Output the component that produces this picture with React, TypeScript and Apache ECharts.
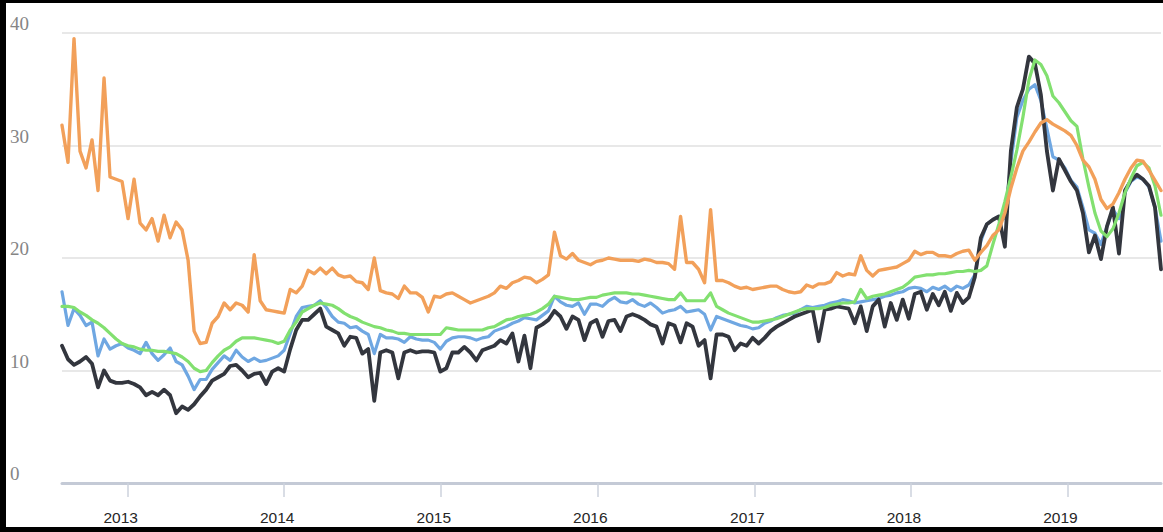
import React, { useEffect, useRef } from 'react';
import * as echarts from 'echarts';

// sampling schedule: one point every 14 days from 1 Aug 2012
const startYear = 2012;
const startMonth = 7;
const startDay = 1;
const stepDays = 14;

const yMin = 0;
const yMax = 40;
const yStep = 10;

const orange = [
  31.8, 28.5, 39.5, 29.5, 28.0, 30.5, 26.0, 36.0, 27.2, 27.0,
  26.8, 23.5, 27.0, 23.1, 22.5, 23.5, 21.5, 23.8, 21.8, 23.2,
  22.5, 19.8, 13.5, 12.4, 12.5, 14.2, 14.8, 16.0, 15.4, 16.0,
  15.8, 15.2, 20.3, 16.2, 15.4, 15.3, 15.2, 15.1, 17.2, 16.9,
  17.5, 18.9, 18.6, 19.1, 18.6, 19.1, 18.5, 18.3, 18.4, 17.9,
  17.8, 17.2, 20.0, 17.1, 16.9, 16.8, 16.4, 17.5, 16.9, 16.9,
  16.5, 15.2, 16.6, 16.5, 16.8, 16.9, 16.6, 16.3, 16.0, 16.2,
  16.4, 16.6, 16.9, 17.5, 17.3, 17.8, 18.0, 18.3, 18.2, 17.8,
  18.1, 18.5, 22.3, 20.2, 19.9, 20.4, 19.8, 19.6, 19.4, 19.7,
  19.8, 20.0, 19.9, 19.8, 19.8, 19.8, 19.7, 19.9, 19.8, 19.6,
  19.6, 19.5, 19.0, 23.7, 19.6, 19.6, 19.0, 17.8, 24.3, 18.0,
  18.0, 17.8, 17.5, 17.3, 17.4, 17.2, 17.3, 17.4, 17.5, 17.5,
  17.2, 17.0, 16.9, 17.0, 17.6, 17.4, 17.7, 17.7, 17.9, 18.7,
  18.4, 18.6, 18.5, 20.2, 18.9, 18.4, 18.9, 19.0, 19.1, 19.2,
  19.5, 19.8, 20.6, 20.3, 20.5, 20.5, 20.2, 20.2, 20.1, 20.4,
  20.6, 20.7, 19.8, 20.5, 21.1, 22.0, 22.5, 24.0, 26.2, 28.0,
  29.5, 30.3, 31.2, 32.0, 32.3, 31.9, 31.6, 31.3, 30.9, 30.0,
  28.7, 28.1, 27.0, 25.2, 24.4, 24.8, 25.8, 27.0, 28.0, 28.7,
  28.6, 27.8, 26.9, 26.0,
];

const blue = [
  17.0, 14.0, 15.5, 14.9, 14.0, 14.3, 11.3, 12.8, 11.9, 12.2,
  12.4, 12.0, 11.8, 11.5, 12.5, 11.5, 10.9, 11.4, 12.0, 10.8,
  10.5, 9.5, 8.3, 9.2, 9.2, 10.1, 10.7, 11.3, 10.9, 11.8,
  11.2, 10.8, 11.1, 10.8, 10.9, 11.1, 11.3, 11.8, 13.3, 14.8,
  15.6, 15.7, 15.8, 16.2, 15.6, 14.8, 14.3, 14.2, 13.8, 13.9,
  13.5, 13.2, 11.5, 13.2, 12.9, 12.9, 12.8, 12.5, 13.0, 12.8,
  12.7, 12.7, 12.5, 11.9, 12.6, 12.9, 13.0, 13.0, 12.9, 12.7,
  12.9, 13.0, 13.5, 13.7, 13.9, 14.2, 14.4, 14.7, 14.6, 14.5,
  14.9, 15.3, 16.6, 16.1, 15.8, 15.7, 16.0, 15.0, 15.9, 15.9,
  15.7, 16.2, 16.5, 16.1, 16.0, 16.3, 15.9, 15.7, 16.0, 15.6,
  15.1, 15.3, 15.4, 15.7, 15.2, 15.3, 15.4, 15.0, 13.6, 14.8,
  14.6, 14.4, 14.2, 14.0, 13.9, 13.7, 13.8, 14.2, 14.4, 14.7,
  14.9, 15.0, 15.1, 15.4, 15.7, 15.6, 15.7, 15.8, 16.0, 16.1,
  16.3, 16.2, 16.0, 16.1, 16.2, 16.3, 16.4, 16.6, 16.7, 16.9,
  17.0, 17.3, 17.4, 17.3, 17.0, 17.4, 17.2, 17.5, 17.1, 17.5,
  17.3, 17.6, 18.5, 21.5, 23.0, 23.4, 23.7, 23.5, 28.5, 32.5,
  34.0, 35.0, 35.4, 34.0, 31.5, 29.0, 28.7, 28.0, 26.9, 26.3,
  24.5, 22.5, 22.2, 21.2, 22.8, 24.3, 23.5, 25.8, 26.8, 27.2,
  27.0, 26.3, 24.5, 21.5,
];

const green = [
  15.7, 15.7, 15.6, 15.2, 14.9, 14.5, 14.2, 13.8, 13.3, 12.8,
  12.4, 12.2, 12.1, 11.9, 11.8, 11.8, 11.7, 11.7, 11.6, 11.5,
  11.2, 10.8, 10.2, 9.9, 10.0, 10.7, 11.3, 11.8, 12.1, 12.6,
  12.9, 12.9, 12.9, 12.8, 12.7, 12.6, 12.4, 12.6, 13.6, 14.3,
  15.2, 15.5, 15.8, 16.0, 15.9, 15.8, 15.5, 15.1, 14.8, 14.6,
  14.3, 14.1, 13.9, 13.8, 13.6, 13.5, 13.3, 13.3, 13.2, 13.2,
  13.2, 13.2, 13.2, 13.2, 13.8, 13.7, 13.6, 13.6, 13.6, 13.6,
  13.6, 13.8, 13.9, 14.2, 14.5, 14.6, 14.8, 14.9, 15.0, 15.2,
  15.5, 15.9, 16.6, 16.5, 16.4, 16.3, 16.3, 16.4, 16.5, 16.5,
  16.7, 16.8, 16.9, 16.9, 16.9, 16.8, 16.8, 16.7, 16.6, 16.5,
  16.4, 16.3, 16.3, 16.9, 16.2, 16.2, 16.2, 16.2, 16.9, 15.7,
  15.4, 15.1, 14.9, 14.7, 14.5, 14.3, 14.3, 14.4, 14.5, 14.6,
  14.8, 15.0, 15.2, 15.4, 15.5, 15.5, 15.5, 15.6, 15.8, 15.9,
  16.0, 16.0, 16.1, 17.2, 16.4, 16.6, 16.7, 16.8, 17.0, 17.2,
  17.4, 17.8, 18.3, 18.4, 18.5, 18.5, 18.6, 18.6, 18.7, 18.8,
  18.8, 18.9, 18.8, 18.9, 19.3, 21.2, 23.0, 25.0, 27.2, 29.6,
  32.5, 35.8, 37.6, 37.2, 36.2, 34.4, 33.8, 33.0, 32.2, 31.7,
  28.8, 26.3, 24.0, 22.4, 21.9, 22.6, 24.0, 25.8, 27.1, 28.2,
  28.5, 28.0, 26.4, 23.8,
];

const black = [
  12.2, 11.0, 10.5, 10.8, 11.2, 10.6, 8.5, 10.0, 9.1, 8.9,
  8.9, 9.0, 8.8, 8.5, 7.8, 8.1, 7.8, 8.3, 7.8, 6.2,
  6.8, 6.5, 7.0, 7.7, 8.3, 9.1, 9.4, 9.7, 10.4, 10.5,
  10.0, 9.4, 9.7, 9.8, 8.8, 9.9, 10.2, 9.9, 11.9, 13.6,
  14.5, 14.5, 15.0, 15.5, 13.9, 13.6, 13.3, 12.2, 13.0, 12.9,
  11.5, 11.9, 7.3, 11.6, 11.8, 11.6, 9.3, 11.6, 11.8, 11.6,
  11.7, 11.7, 11.6, 9.9, 10.2, 11.6, 11.6, 12.1, 11.6, 10.9,
  11.8, 12.0, 12.2, 12.7, 12.4, 13.3, 10.8, 13.1, 10.2, 13.8,
  14.1, 14.5, 15.3, 14.8, 13.7, 14.8, 14.5, 12.7, 14.2, 14.5,
  13.0, 14.4, 14.5, 13.5, 14.8, 15.0, 14.8, 14.5, 14.1, 13.9,
  12.4, 14.2, 14.0, 12.5, 14.2, 13.9, 12.2, 12.7, 9.3, 13.2,
  13.2, 13.0, 11.8, 12.4, 12.2, 12.9, 12.4, 12.9, 13.5, 13.9,
  14.2, 14.5, 14.8, 15.0, 15.2, 15.4, 12.6, 15.4, 15.5, 15.7,
  15.6, 15.5, 14.2, 15.7, 13.5, 15.7, 16.3, 13.9, 16.0, 14.5,
  16.3, 14.6, 16.8, 17.0, 15.4, 16.8, 15.8, 17.0, 15.3, 16.9,
  16.0, 16.5, 18.3, 21.8, 23.0, 23.4, 23.7, 21.0, 29.5, 33.4,
  35.0, 37.9, 37.3, 34.5, 29.5, 26.0, 28.8, 27.8, 26.8, 26.0,
  24.0, 20.5, 22.0, 19.9, 22.8, 24.5, 20.4, 26.0, 26.9, 27.4,
  27.0, 26.4, 24.5, 19.0,
];

export default function App() {
  const ref = useRef<HTMLDivElement>(null);

  useEffect(() => {
    if (!ref.current) return;
    const chart = echarts.init(ref.current, null, { renderer: 'svg' });
    const dates = orange.map((_, i) =>
      new Date(startYear, startMonth, startDay + i * stepDays).getTime()
    );
    const pairs = (vals: number[]) => vals.map((v, i) => [dates[i], v]);
    const lineSeries = (name: string, vals: number[], color: string, width: number, z: number) => ({
      name,
      type: 'line',
      data: pairs(vals),
      showSymbol: false,
      symbol: 'none',
      smooth: false,
      z,
      lineStyle: { color, width, join: 'round', cap: 'round' },
      itemStyle: { color },
    });

    chart.setOption({
      animation: false,
      backgroundColor: '#ffffff',
      grid: { left: 62, right: 2, top: 33, bottom: 49, containLabel: false },
      xAxis: {
        type: 'time',
        min: dates[0],
        max: dates[dates.length - 1],
        minInterval: 365 * 24 * 3600 * 1000,
        splitNumber: 7,
        axisLine: { show: true, lineStyle: { color: '#c4cad6', width: 3 } },
        axisTick: { show: true, length: 14, lineStyle: { color: '#cdd2dc', width: 1.5 } },
        splitLine: { show: false },
        axisLabel: {
          show: true,
          margin: 26,
          fontFamily: 'Liberation Sans, Arial, sans-serif',
          fontSize: 15.5,
          color: '#262626',
          padding: [0, 14, 0, 0],
          showMinLabel: false,
          showMaxLabel: false,
          formatter: (val: number) => String(new Date(val).getFullYear()),
        },
      },
      yAxis: {
        type: 'value',
        min: yMin,
        max: yMax,
        interval: yStep,
        axisLine: { show: false },
        axisTick: { show: false },
        splitLine: { show: true, lineStyle: { color: '#e0e0e0', width: 1.5 } },
        axisLabel: {
          show: true,
          margin: 52,
          align: 'left',
          verticalAlign: 'bottom',
          fontFamily: 'Liberation Serif, DejaVu Serif, serif',
          fontSize: 19,
          color: '#858585',
        },
      },
      series: [
        lineSeries('Blue', blue, '#6fa7e2', 3.2, 2),
        lineSeries('Black', black, '#33363e', 3.8, 3),
        lineSeries('Green', green, '#82e070', 3.2, 4),
        lineSeries('Orange', orange, '#f2a05a', 3.4, 5),
      ],
      graphic: [
        { type: 'rect', left: 0, top: 0, shape: { width: 1163, height: 3 }, style: { fill: '#000' }, z: 100 },
        { type: 'rect', left: 0, top: 0, shape: { width: 6, height: 532 }, style: { fill: '#000' }, z: 100 },
        { type: 'rect', left: 0, top: 527, shape: { width: 1163, height: 5 }, style: { fill: '#000' }, z: 100 },
      ],
    });

    return () => chart.dispose();
  }, []);

  return (
    <div
      ref={ref}
      style={{ position: 'fixed', left: 0, top: 0, width: 1163, height: 532, background: '#fff' }}
    />
  );
}
